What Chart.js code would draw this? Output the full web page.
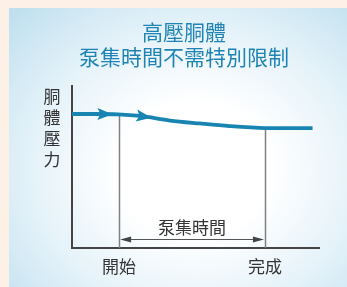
<!DOCTYPE html>
<html>
<head>
<meta charset="utf-8">
<script src="https://cdn.jsdelivr.net/npm/chart.js@4"></script>
<style>
  html, body { margin: 0; padding: 0; }
  #wrap { position: relative; width: 347px; height: 287px; background: #fdf0e7; overflow: hidden; }
  #panel { position: absolute; left: 9px; top: 8px; right: 0; bottom: 0;
    background: radial-gradient(ellipse 75% 80% at 55% 58%, #ffffff 30%, #e4f2f9 65%, #c0e0ef 100%); }
  #chart { position: absolute; left: 0; top: 0; }
</style>
</head>
<body>
<div id="wrap">
  <div id="panel"></div>
  <canvas id="chart" width="347" height="287"></canvas>
</div>
<script>
// Chart data
const titleLines = ['高壓胴體', '泵集時間不需特別限制'];
const yAxisLabel = ['胴', '體', '壓', '力'];
const timeValues = [0, 9, 18.5, 27.5, 39.5, 51.5, 63.5, 78, 88, 97];
const pressureValues = [82.2, 82.2, 82, 81, 78.2, 76.4, 74.8, 73.6, 73.5, 73.6];
const startTime = 19;
const endTime = 77.8;
const arrowTimes = [16.3, 32];
const startLabel = '開始';
const endLabel = '完成';
const spanLabel = '泵集時間';
const spanLevel = 5.5;

const FONT = '"Noto Sans CJK TC", "Noto Sans CJK SC", sans-serif';
const LINE_COLOR = '#1784b2';

// y on the curve (linear between points, good enough for markers)
function curveAt(t) {
    for (let i = 0; i < timeValues.length - 1; i++) {
        if (t >= timeValues[i] && t <= timeValues[i + 1]) {
            const f = (t - timeValues[i]) / (timeValues[i + 1] - timeValues[i]);
            return pressureValues[i] + f * (pressureValues[i + 1] - pressureValues[i]);
        }
    }
    return pressureValues[pressureValues.length - 1];
}

const decorPlugin = {
    id: 'decor',
    beforeDatasetsDraw(chart) {
        const ctx = chart.ctx;
        const x = chart.scales.x;
        const y = chart.scales.y;
        const area = chart.chartArea;
        ctx.save();

        // axes
        ctx.strokeStyle = '#454545';
        ctx.lineWidth = 2;
        ctx.beginPath();
        ctx.moveTo(area.left, area.top);
        ctx.lineTo(area.left, area.bottom);
        ctx.lineTo(area.right, area.bottom);
        ctx.stroke();

        // start / end markers
        ctx.strokeStyle = '#808080';
        ctx.lineWidth = 1.5;
        [startTime, endTime].forEach(t => {
            const px = Math.round(x.getPixelForValue(t)) + 0.5;
            ctx.beginPath();
            ctx.moveTo(px, y.getPixelForValue(curveAt(t)));
            ctx.lineTo(px, area.bottom);
            ctx.stroke();
        });

        // span arrow
        const x1 = x.getPixelForValue(startTime) + 1;
        const x2 = x.getPixelForValue(endTime) - 1;
        const ay = Math.round(y.getPixelForValue(spanLevel)) + 0.5;
        ctx.strokeStyle = '#555';
        ctx.fillStyle = '#444';
        ctx.lineWidth = 1;
        ctx.beginPath();
        ctx.moveTo(x1 + 8, ay);
        ctx.lineTo(x2 - 8, ay);
        ctx.stroke();
        ctx.beginPath();
        ctx.moveTo(x1, ay);
        ctx.lineTo(x1 + 11, ay - 3);
        ctx.lineTo(x1 + 11, ay + 3);
        ctx.closePath();
        ctx.fill();
        ctx.beginPath();
        ctx.moveTo(x2, ay);
        ctx.lineTo(x2 - 11, ay - 3);
        ctx.lineTo(x2 - 11, ay + 3);
        ctx.closePath();
        ctx.fill();

        // texts
        ctx.fillStyle = '#333';
        ctx.font = '17px ' + FONT;
        ctx.textAlign = 'center';
        ctx.textBaseline = 'middle';
        ctx.fillText(spanLabel, (x1 + x2) / 2, ay - 12);
        ctx.fillText(startLabel, x.getPixelForValue(startTime), 267);
        ctx.fillText(endLabel, x.getPixelForValue(endTime), 267);
        yAxisLabel.forEach((c, i) => ctx.fillText(c, 52, 97 + i * 21));

        ctx.fillStyle = '#1f84b4';
        ctx.font = '21px ' + FONT;
        ctx.fillText(titleLines[0], 184, 32);
        ctx.fillText(titleLines[1], 184, 57);
        ctx.restore();
    },
    afterDatasetsDraw(chart) {
        const ctx = chart.ctx;
        const x = chart.scales.x;
        const y = chart.scales.y;
        ctx.save();
        ctx.fillStyle = LINE_COLOR;
        arrowTimes.forEach(t => {
            const tx = x.getPixelForValue(t);
            const ty = y.getPixelForValue(curveAt(t));
            const bx = x.getPixelForValue(t - 5);
            const by = y.getPixelForValue(curveAt(t - 5));
            const ang = Math.atan2(ty - by, tx - bx);
            ctx.translate(tx, ty);
            ctx.rotate(ang);
            ctx.beginPath();
            ctx.moveTo(0, 0);
            ctx.lineTo(-15, -6);
            ctx.lineTo(-12, 0);
            ctx.lineTo(-15, 6);
            ctx.closePath();
            ctx.fill();
            ctx.setTransform(1, 0, 0, 1, 0, 0);
        });
        ctx.restore();
    }
};

new Chart(document.getElementById('chart'), {
    type: 'line',
    data: {
        datasets: [{
            data: timeValues.map((t, i) => ({ x: t, y: pressureValues[i] })),
            borderColor: LINE_COLOR,
            borderWidth: 3.8,
            pointRadius: 0,
            cubicInterpolationMode: 'monotone',
            fill: false
        }]
    },
    options: {
        responsive: false,
        animation: false,
        layout: { padding: { left: 72, right: 27, top: 85, bottom: 39 } },
        plugins: { legend: { display: false }, tooltip: { enabled: false } },
        scales: {
            x: { type: 'linear', min: 0, max: 100, display: false },
            y: { min: 0, max: 100, display: false }
        }
    },
    plugins: [decorPlugin]
});
</script>
</body>
</html>
